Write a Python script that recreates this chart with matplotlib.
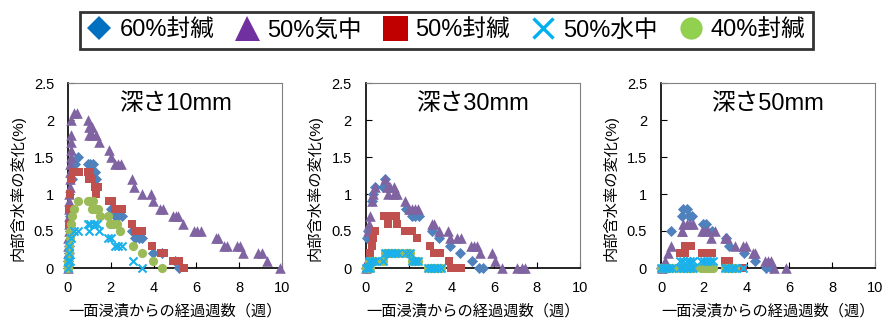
import matplotlib
matplotlib.use("Agg")
import matplotlib.pyplot as plt
from matplotlib.lines import Line2D

plt.rcParams['font.family'] = ['Liberation Sans', 'Noto Sans CJK JP', 'DejaVu Sans']

# ---------------- data ----------------
series_names = ["60%封緘", "50%気中", "50%封緘", "50%水中", "40%封緘"]
panel_titles = ["深さ10mm", "深さ30mm", "深さ50mm"]
xlabel_text = "一面浸漬からの経過週数（週）"
ylabel_text = "内部含水率の変化(%)"
xticks = [0, 2, 4, 6, 8, 10]
yticks = [0, 0.5, 1, 1.5, 2, 2.5]
ytick_labels = ["0", "0.5", "1", "1.5", "2", "2.5"]

# depth 10 mm
d10_blue_x = [0.00, 0.02, 0.04, 0.06, 0.08, 0.10, 0.20, 0.31, 0.47, 0.94, 1.05, 1.16, 1.25, 1.33,
              2.00, 2.20, 2.35, 2.50, 2.97, 3.14, 3.30, 3.45, 3.98, 4.40, 5.00, 5.20]
d10_blue_y = [0.0, 0.1, 0.2, 0.3, 0.5, 0.7, 1.2, 1.4, 1.5, 1.4, 1.4, 1.4, 1.3, 1.2,
              0.8, 0.7, 0.7, 0.7, 0.5, 0.4, 0.4, 0.4, 0.2, 0.2, 0.1, 0.0]
d10_purple_x = [0.00, 0.01, 0.01, 0.02, 0.02, 0.03, 0.03, 0.04, 0.05, 0.06, 0.07, 0.08, 0.09, 0.10,
                0.11, 0.12, 0.13, 0.14, 0.16, 0.14, 0.29, 0.43,
                0.94, 1.00, 1.10, 1.00, 1.14, 1.29, 1.43, 1.92, 2.03, 2.19, 2.33, 2.47,
                2.97, 3.08, 3.44, 3.90, 3.98, 4.30, 4.45, 4.92, 5.05, 5.16, 5.39,
                5.90, 6.05, 6.20, 6.90, 7.00, 7.30, 7.45, 7.90, 8.05, 8.20, 8.90, 9.05, 9.30, 9.90]
d10_purple_y = [0.0, 0.1, 0.2, 0.3, 0.4, 0.5, 0.6, 0.7, 0.8, 0.9, 1.0, 1.1, 1.2, 1.3,
                1.4, 1.5, 1.6, 1.7, 1.8, 2.0, 2.1, 2.1,
                2.0, 1.9, 1.9, 1.8, 1.8, 1.8, 1.7, 1.6, 1.5, 1.4, 1.4, 1.4,
                1.2, 1.1, 1.0, 1.0, 0.9, 0.8, 0.8, 0.7, 0.7, 0.7, 0.6,
                0.5, 0.5, 0.5, 0.4, 0.4, 0.3, 0.3, 0.3, 0.3, 0.2, 0.2, 0.2, 0.1, 0.0]
d10_red_x = [0.03, 0.06, 0.08, 0.16, 0.22, 0.36, 0.50, 0.92, 1.05, 1.00, 1.14, 1.25, 1.40, 1.33,
             1.92, 2.05, 2.20, 2.35, 2.50, 3.00, 3.14, 3.30, 3.45, 3.92, 4.35, 4.50,
             4.90, 5.05, 5.20, 5.40]
d10_red_y = [0.6, 0.8, 1.0, 1.2, 1.3, 1.3, 1.3, 1.3, 1.3, 1.2, 1.2, 1.1, 1.1, 1.0,
             0.9, 0.9, 0.8, 0.8, 0.8, 0.6, 0.5, 0.5, 0.5, 0.3, 0.2, 0.2,
             0.1, 0.1, 0.1, 0.0]
d10_green_x = [0.00, 0.02, 0.04, 0.06, 0.08, 0.10, 0.12, 0.20, 0.30, 0.45, 0.92, 1.04, 1.16,
               1.10, 1.25, 1.40, 1.48, 1.88, 1.98, 2.12, 2.28, 2.42, 3.05, 3.44, 3.98, 4.40]
d10_green_y = [0.0, 0.1, 0.2, 0.3, 0.4, 0.5, 0.6, 0.7, 0.8, 0.9, 0.9, 0.9, 0.9,
               0.8, 0.8, 0.8, 0.7, 0.7, 0.6, 0.6, 0.6, 0.5, 0.3, 0.2, 0.1, 0.0]
d10_cyan_x = [0.00, 0.02, 0.04, 0.06, 0.08, 0.16, 0.30, 0.45, 0.92, 1.05, 1.20, 1.35, 1.00, 1.45,
              1.87, 2.00, 2.20, 2.35, 2.50, 3.05, 3.45]
d10_cyan_y = [0.0, 0.1, 0.2, 0.3, 0.1, 0.4, 0.5, 0.5, 0.6, 0.6, 0.6, 0.6, 0.5, 0.5,
              0.4, 0.4, 0.3, 0.3, 0.3, 0.1, 0.0]

# depth 30 mm
d30_blue_x = [0.00, 0.05, 0.12, 0.28, 0.36, 0.44, 0.80, 0.90, 1.90, 2.15, 2.30, 2.47,
              3.09, 3.44, 3.95, 4.42, 4.97, 5.28, 5.50]
d30_blue_y = [0.0, 0.4, 0.5, 0.9, 1.0, 1.1, 1.1, 1.2, 0.8, 0.7, 0.7, 0.7,
              0.5, 0.4, 0.3, 0.2, 0.1, 0.0, 0.0]
d30_purple_x = [0.00, 0.05, 0.12, 0.17, 0.20, 0.28, 0.36, 0.44, 0.90, 1.00, 1.14, 1.30, 1.06, 1.30,
                1.45, 1.84, 2.00, 2.15, 2.30, 2.45, 3.09, 3.20, 3.44, 3.86, 3.95, 4.25, 4.45,
                4.90, 5.05, 5.20, 5.36, 5.90, 6.06, 6.37, 7.05, 7.30, 7.45]
d30_purple_y = [0.0, 0.1, 0.5, 0.6, 0.7, 0.9, 1.0, 1.1, 1.2, 1.1, 1.1, 1.1, 1.0, 1.0,
                1.0, 0.9, 0.8, 0.8, 0.8, 0.8, 0.6, 0.6, 0.5, 0.5, 0.4, 0.4, 0.4,
                0.3, 0.3, 0.3, 0.2, 0.2, 0.1, 0.0, 0.0, 0.0, 0.0]
d30_red_x = [0.20, 0.28, 0.33, 0.44, 0.86, 1.00, 1.14, 1.29, 1.43, 1.06, 1.45, 1.84, 2.00, 2.15,
             2.39, 3.00, 3.17, 3.33, 3.48, 3.88, 4.00, 4.25, 4.45]
d30_red_y = [0.2, 0.3, 0.4, 0.5, 0.7, 0.7, 0.7, 0.7, 0.7, 0.6, 0.6, 0.5, 0.5, 0.5,
             0.4, 0.3, 0.2, 0.2, 0.2, 0.1, 0.0, 0.0, 0.0]
d30_green_x = [0.00, 0.10, 0.20, 0.15, 0.30, 0.44, 0.83, 0.92, 1.06, 1.20, 1.35, 1.50, 1.90, 2.05,
               2.15, 2.30, 2.45, 2.90, 3.05, 3.20, 3.35, 3.50]
d30_green_y = [0.0, 0.0, 0.0, 0.1, 0.1, 0.1, 0.1, 0.2, 0.2, 0.2, 0.2, 0.2, 0.2, 0.2,
               0.1, 0.1, 0.1, 0.0, 0.0, 0.0, 0.0, 0.0]
d30_cyan_x = [0.00, 0.10, 0.20, 0.15, 0.30, 0.44, 0.83, 0.92, 1.06, 1.20, 1.35, 1.50, 1.90, 2.05,
              2.15, 2.30, 2.45, 2.90, 3.05, 3.20, 3.35, 3.50]
d30_cyan_y = [0.0, 0.0, 0.0, 0.1, 0.1, 0.1, 0.1, 0.2, 0.2, 0.2, 0.2, 0.2, 0.2, 0.2,
              0.1, 0.1, 0.1, 0.0, 0.0, 0.0, 0.0, 0.0]

# depth 50 mm
d50_blue_x = [0.00, 0.20, 0.47, 0.96, 1.05, 1.20, 1.33, 1.43, 1.97, 2.10, 2.36, 3.05, 3.20,
              3.90, 4.37, 4.90, 5.15]
d50_blue_y = [0.0, 0.0, 0.5, 0.7, 0.8, 0.8, 0.7, 0.7, 0.6, 0.6, 0.5, 0.4, 0.3,
              0.2, 0.1, 0.0, 0.0]
d50_purple_x = [0.05, 0.19, 0.34, 0.47, 0.96, 1.04, 1.20, 1.35, 1.50, 1.00, 1.90, 2.05, 2.20,
                2.50, 2.33, 3.00, 3.10, 3.44, 3.85, 3.95, 4.30, 4.40, 4.84, 5.00, 5.15, 5.30, 5.85]
d50_purple_y = [0.0, 0.1, 0.2, 0.3, 0.5, 0.6, 0.6, 0.6, 0.6, 0.5, 0.5, 0.5, 0.5,
                0.5, 0.4, 0.4, 0.4, 0.3, 0.3, 0.3, 0.2, 0.2, 0.1, 0.1, 0.1, 0.0, 0.0]
d50_red_x = [0.90, 1.10, 1.10, 1.25, 1.40, 1.90, 2.05, 2.20, 2.40, 3.00, 3.20, 3.85]
d50_red_y = [0.2, 0.2, 0.3, 0.3, 0.3, 0.2, 0.2, 0.2, 0.2, 0.1, 0.1, 0.0]
d50_green_x = [0.00, 0.12, 0.25, 0.38, 0.50, 0.90, 1.05, 1.20, 1.35, 1.50, 1.85, 2.00, 2.15,
               2.30, 2.45, 3.00, 3.15, 3.30, 3.45]
d50_green_y = [0.0] * 19
d50_cyan_x = [0.00, 0.12, 0.25, 0.38, 0.50, 0.90, 1.05, 1.20, 1.35, 1.50, 0.90, 1.05, 1.20, 1.35,
              1.50, 1.85, 2.00, 2.15, 2.30, 2.45, 3.00, 3.15, 3.30, 3.45, 3.85]
d50_cyan_y = [0.0, 0.0, 0.0, 0.0, 0.0, 0.0, 0.0, 0.0, 0.0, 0.0, 0.1, 0.1, 0.1, 0.1,
              0.1, 0.1, 0.1, 0.1, 0.1, 0.1, 0.0, 0.0, 0.0, 0.0, 0.0]

panels = [
    [(d10_blue_x, d10_blue_y), (d10_purple_x, d10_purple_y), (d10_red_x, d10_red_y),
     (d10_cyan_x, d10_cyan_y), (d10_green_x, d10_green_y)],
    [(d30_blue_x, d30_blue_y), (d30_purple_x, d30_purple_y), (d30_red_x, d30_red_y),
     (d30_cyan_x, d30_cyan_y), (d30_green_x, d30_green_y)],
    [(d50_blue_x, d50_blue_y), (d50_purple_x, d50_purple_y), (d50_red_x, d50_red_y),
     (d50_cyan_x, d50_cyan_y), (d50_green_x, d50_green_y)],
]

# ---------------- styles ----------------
plot_colors = ["#4F81BD", "#8064A2", "#C0504D", "#1AB0EC", "#9BBB59"]
legend_colors = ["#0070C0", "#7030A0", "#C00000", "#00B0F0", "#92D050"]
markers = ["D", "^", "s", "x", "o"]
sizes = [32, 58, 34, 34, 44]
draw_order = [0, 1, 2, 4, 3]  # blue, purple, red, green, cyan on top

fig = plt.figure(figsize=(8.82, 3.25), dpi=100)
axes_lefts = [68 / 882, 365.7 / 882, 661 / 882]
axes_width = 214 / 882
axes_bottom = 57 / 325
axes_height = 185 / 325

for p, left in enumerate(axes_lefts):
    ax = fig.add_axes([left, axes_bottom, axes_width, axes_height])
    for i in draw_order:
        xs, ys = panels[p][i]
        if markers[i] == "x":
            ax.scatter(xs, ys, marker="x", s=sizes[i], color=plot_colors[i],
                       linewidths=1.5, clip_on=False, zorder=3)
        else:
            ax.scatter(xs, ys, marker=markers[i], s=sizes[i], color=plot_colors[i],
                       linewidths=0, clip_on=False, zorder=3)
    ax.set_xlim(0, 10)
    ax.set_ylim(0, 2.5)
    ax.set_xticks(xticks)
    ax.set_yticks(yticks)
    ax.set_xticklabels([str(t) for t in xticks])
    ax.set_yticklabels(ytick_labels)
    ax.tick_params(axis="both", direction="in", length=4, width=0.8, labelsize=10.5,
                   colors="black")
    ax.tick_params(axis="x", pad=9)
    ax.tick_params(axis="y", pad=10)
    for s in ["left", "bottom"]:
        ax.spines[s].set_color("black")
        ax.spines[s].set_linewidth(1.2)
    for s in ["top", "right"]:
        ax.spines[s].set_color("#808080")
        ax.spines[s].set_linewidth(0.8)
    ax.set_xlabel(xlabel_text, fontsize=11)
    ax.set_ylabel(ylabel_text, fontsize=11)
    ax.xaxis.set_label_coords(0.5, -0.195)
    ax.yaxis.set_label_coords(-0.2, 0.43)
    ax.text(0.5, 0.885, panel_titles[p], transform=ax.transAxes, ha="center", va="center",
            fontsize=17)

handles = []
legend_ms = {"D": 12, "^": 18, "s": 18, "x": 14, "o": 16}
for i in range(5):
    if markers[i] == "x":
        h = Line2D([], [], linestyle="none", marker="x", markersize=legend_ms["x"],
                   markeredgewidth=2.4, color=legend_colors[i])
    else:
        h = Line2D([], [], linestyle="none", marker=markers[i], markersize=legend_ms[markers[i]],
                   color=legend_colors[i], markeredgewidth=0)
    handles.append(h)

leg = fig.legend(handles, series_names, loc="center", ncol=5,
                 bbox_to_anchor=(446.5 / 882, 1 - 30.5 / 325), fontsize=17,
                 frameon=True, fancybox=False, handlelength=1.0, handletextpad=0.35,
                 columnspacing=0.9, borderpad=0.32, borderaxespad=0)
leg.get_frame().set_edgecolor("black")
leg.get_frame().set_linewidth(2)

fig.savefig("out.png", dpi=100)
